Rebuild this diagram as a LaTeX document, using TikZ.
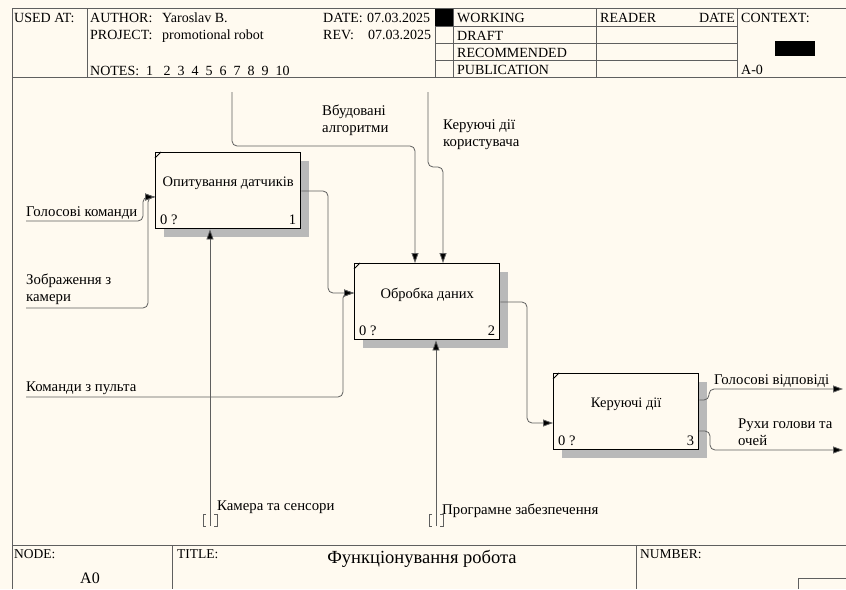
\documentclass[tikz,border=0pt]{standalone}
\usepackage{fontspec}
\setmainfont{Liberation Serif}
\usetikzlibrary{arrows.meta,shadows}
\definecolor{bg}{RGB}{255,250,240}
\definecolor{ln}{RGB}{95,95,95}
\begin{document}
\begin{tikzpicture}[x=1pt,y=-1pt,
  fn/.style={draw=black,line width=1.4pt,fill=bg,minimum width=145pt,minimum height=76pt,anchor=north west,inner sep=0,
    drop shadow={shadow xshift=8pt,shadow yshift=-8pt,fill=gray!55,opacity=1}},
  boxtxt/.style={font=\fontsize{14.5}{16}\selectfont,inner sep=0},
  con/.style={draw=ln,line width=0.8pt,rounded corners=5pt,-{Triangle[length=10pt,width=7pt,fill=black]}},
  plain/.style={draw=ln,line width=0.8pt},
  lbl/.style={font=\fontsize{14.8}{17}\selectfont,inner sep=0,align=left,anchor=base west},
  hd/.style={font=\fontsize{14}{16}\selectfont,inner sep=0,anchor=base west},
  ft/.style={font=\fontsize{13.5}{15}\selectfont,inner sep=0,anchor=base west},
  frame/.style={draw=ln,line width=0.8pt}]
\fill[bg] (0,0) rectangle (846,589);
\useasboundingbox (0,0) rectangle (846,589);

% ---------- header ----------
\draw[frame] (12,589) -- (12,8.5) -- (846,8.5);
\draw[frame] (12,77) -- (846,77);
\foreach \xx in {87,435,453,596,737} \draw[frame] (\xx,8.5) -- (\xx,77);
\foreach \yy in {26,43,60} \draw[frame] (435,\yy) -- (737,\yy);
\fill[black] (435,8.5) rectangle (453,26);
\fill[black] (775,41) rectangle (815,56);

\node[hd] (usedat) at (14,23) {USED AT:};
\node[hd] (author) at (90,23) {AUTHOR:};
\node[hd] (authorv) at (162,23) {Yaroslav B.};
\node[hd] (project) at (90,39) {PROJECT:};
\node[hd] (projectv) at (162,39) {promotional robot};
\node[hd] (notes) at (90,75) {NOTES:~~1~~~2~~3~~4~~5~~6~~7~~8~~9~~10};
\begin{scope}
\clip (300,8.5) rectangle (435,77);
\node[hd] (date) at (323,23) {DATE:};
\node[hd] (datev) at (367,23) {07.03.2025};
\node[hd] (rev) at (323,39) {REV:};
\node[hd] (revv) at (368,39) {07.03.2025};
\end{scope}
\node[hd] (working) at (457,23) {WORKING};
\node[hd] (draft) at (457,40) {DRAFT};
\node[hd] (recom) at (457,57) {RECOMMENDED};
\node[hd] (public) at (457,74) {PUBLICATION};
\node[hd] (reader) at (600,23) {READER};
\node[hd,anchor=base east] (rdate) at (735,23) {DATE};
\node[hd] (context) at (741,23) {CONTEXT:};
\node[hd] (ctxnode) at (741,74) {A-0};

% ---------- footer ----------
\draw[frame] (12,545) -- (846,545);
\draw[frame] (172,545) -- (172,589);
\draw[frame] (636,545) -- (636,589);
\draw[frame] (798,589) -- (798,578) -- (846,578);
\node[ft] (nodel) at (14,558) {NODE:};
\node[font=\fontsize{16}{18}\selectfont,inner sep=0,anchor=base west] (nodev) at (80,583) {A0};
\node[ft] (titlel) at (177,558) {TITLE:};
\node[font=\fontsize{18.5}{20}\selectfont,inner sep=0,anchor=base] (title) at (422,563) {Функціонування робота};
\node[ft] (numberl) at (640,558) {NUMBER:};

% ---------- boxes ----------
\node[fn] (b1) at (155,152) {};
\node[fn] (b2) at (354,263) {};
\node[fn] (b3) at (553,373) {};
\foreach \b/\t/\n in {b1/Опитування датчиків/1, b2/Обробка даних/2, b3/Керуючі дії/3}{
  \node[boxtxt] (\b t) at ([yshift=7pt]\b.center) {\t};
  \node[boxtxt,anchor=base west] (\b z) at ([xshift=5pt,yshift=5pt]\b.south west) {0 ?};
  \node[boxtxt,anchor=base east] (\b n) at ([xshift=-5pt,yshift=5pt]\b.south east) {\n};
  \draw[black,line width=0.8pt] ([yshift=-6pt]\b.north west) -- ([xshift=6pt]\b.north west);
}

% ---------- anchor points ----------
\coordinate (b1i) at ([yshift=-45pt]b1.north west);
\coordinate (b1o) at ([yshift=-39pt]b1.north east);
\coordinate (b1m) at ([xshift=55pt]b1.south west);
\coordinate (b2i) at ([yshift=-30pt]b2.north west);
\coordinate (b2o) at ([yshift=-39pt]b2.north east);
\coordinate (b2c1) at ([xshift=61pt]b2.north west);
\coordinate (b2c2) at ([xshift=89pt]b2.north west);
\coordinate (b2m) at ([xshift=82pt]b2.south west);
\coordinate (b3i) at ([yshift=-50pt]b3.north west);
\coordinate (b3o1) at ([yshift=-27pt]b3.north east);
\coordinate (b3o2) at ([yshift=-58pt]b3.north east);

\coordinate (c1s) at (232,92);
\coordinate (c2s) at (428,92);
\coordinate (i1s) at (26,221);
\coordinate (i2s) at (26,308);
\coordinate (i3s) at (26,397);
\coordinate (m1s) at (210,526);
\coordinate (m2s) at (436,526);
\coordinate (o1e) at (843,389);
\coordinate (o2e) at (843,450);

% ---------- connectors ----------
\draw[con] (c1s) -- (232,146) -- (415,146) -- (b2c1);
\draw[con] (c2s) -- (428,167) -- (443,167) -- (b2c2);
\draw[con] (i1s) -- (143,221) |- (b1i);
\draw[con] (i2s) -- (148,308) |- (b1i);
\draw[con] (b1o) -- (328,191) |- (b2i);
\draw[con] (i3s) -- (343,397) |- (b2i);
\draw[con] (b2o) -- (527,302) |- (b3i);
\draw[con] (b3o1) -- (709,400) -- (709,389) -- (o1e);
\draw[con] (b3o2) -- (710,431) -- (710,450) -- (o2e);
\draw[con] (m1s) -- (b1m);
\draw[con] (m2s) -- (b2m);

% tunnel brackets
\foreach \xx in {210,436}{
  \draw[plain] (\xx-4,514) -- (\xx-7,514) -- (\xx-7,526) -- (\xx-4,526);
  \draw[plain] (\xx+4,514) -- (\xx+7,514) -- (\xx+7,526) -- (\xx+4,526);
}

% ---------- labels (base = last line) ----------
\node[lbl] (l1) at (322,132) {Вбудовані\\алгоритми};
\node[lbl] (l2) at (443,146) {Керуючі дії\\користувача};
\node[lbl] (l3) at (26,216) {Голосові команди};
\node[lbl] (l4) at (26,301) {Зображення з\\камери};
\node[lbl] (l5) at (26,391) {Команди з пульта};
\node[lbl] (l6) at (217,510) {Камера та сенсори};
\node[lbl] (l7) at (442,514) {Програмне забезпечення};
\node[lbl] (l8) at (714,384) {Голосові відповіді};
\node[lbl] (l9) at (738,445) {Рухи голови та\\очей};
\end{tikzpicture}
\end{document}
